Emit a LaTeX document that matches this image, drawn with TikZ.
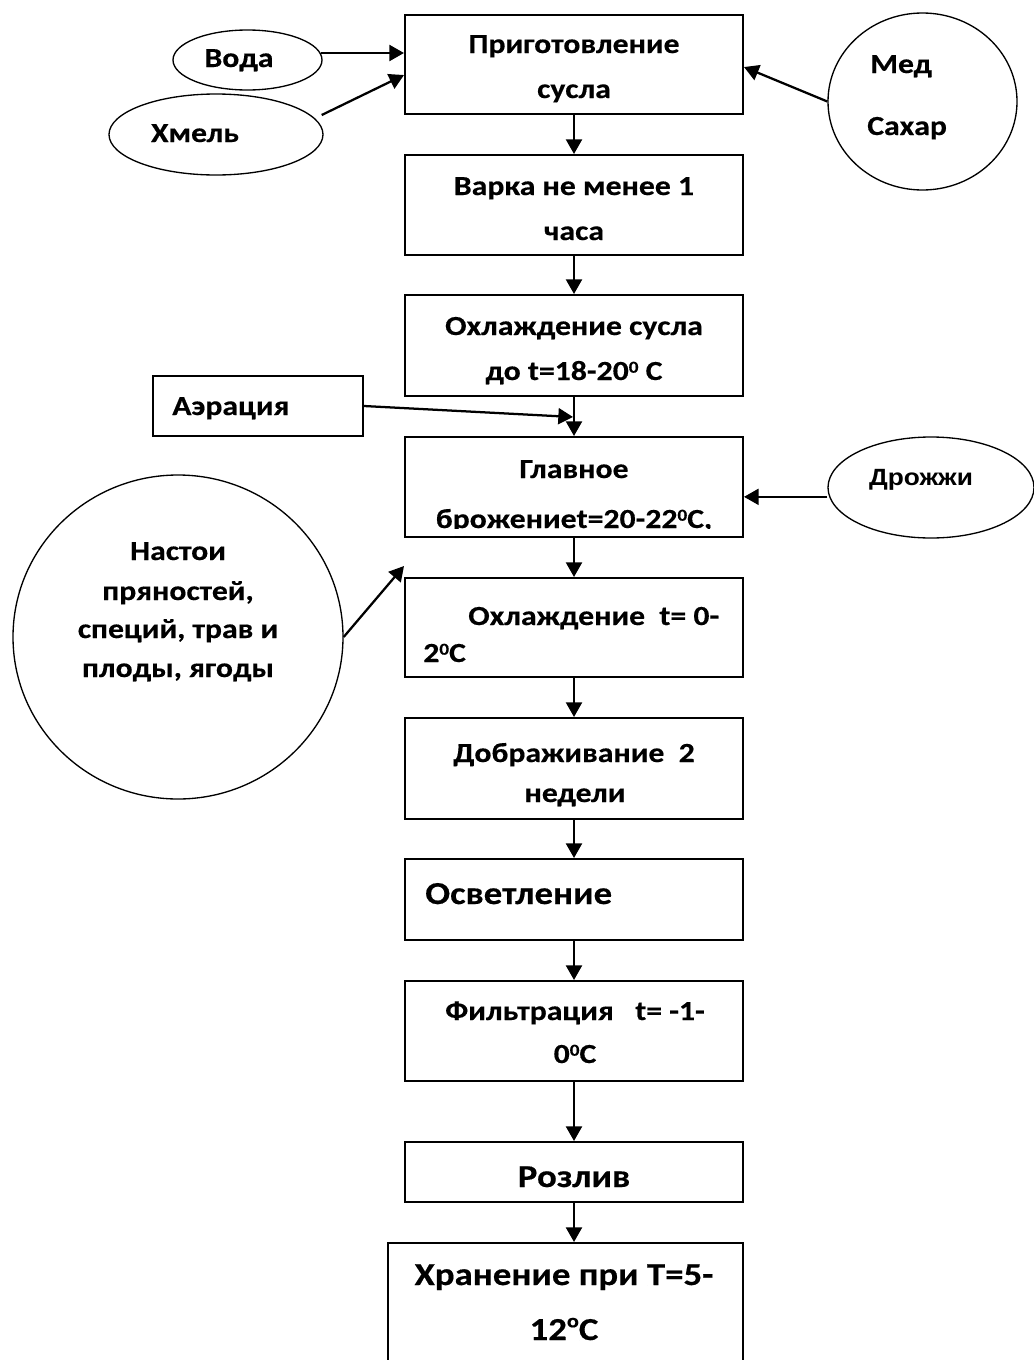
\documentclass[tikz,border=0pt]{standalone}
\usepackage{fontspec}
\setmainfont{Carlito}[FakeStretch=1.15,BoldFeatures={FakeBold=0.4}]
\newfontfamily\arialf{Liberation Sans}[FakeStretch=1.12]
\usetikzlibrary{arrows.meta,shapes.geometric}
\newcommand\degz{\raisebox{5.5pt}{\fontsize{12.5pt}{12.5pt}\selectfont 0}}
\newcommand\dego{\raisebox{9.5pt}{\fontsize{14.5pt}{14.5pt}\selectfont o}}
\begin{document}
\begin{tikzpicture}[x=0.75pt,y=-0.75pt,
  box/.style={draw,line width=1.5pt,inner sep=0pt,minimum width=253.5pt},
  oval/.style={draw,ellipse,line width=1pt,inner sep=0pt},
  txt/.style={inner sep=0pt,anchor=base,font=\bfseries\fontsize{20.7pt}{24pt}\selectfont},
  txtl/.style={txt,anchor=base west},
  big/.style={inner sep=0pt,anchor=base,font=\bfseries\fontsize{24pt}{28pt}\selectfont},
  arr/.style={line width=1.7pt,-{Triangle[width=12pt,length=11pt]}}]
\useasboundingbox (0,0) rectangle (1033,1360);
% main boxes
\node[box,minimum height=74.25pt] (b1) at (574,64.5) {};
\node[box,minimum height=75pt] (b2) at (574,205) {};
\node[box,minimum height=75.75pt] (b3) at (574,345.5) {};
\node[box,minimum height=75pt] (b4) at (574,487) {};
\node[box,minimum height=74.25pt] (b5) at (574,627.5) {};
\node[box,minimum height=75.75pt] (b6) at (574,768.5) {};
\node[box,minimum height=60.75pt] (b7) at (574,899.5) {};
\node[box,minimum height=75pt] (b8) at (574,1031) {};
\node[box,minimum height=45pt] (b9) at (574,1172) {};
\node[box,minimum width=266.25pt,minimum height=117.75pt] (b10) at (565.5,1321.5) {};
\node[box,minimum width=157.5pt,minimum height=45pt] (aer) at (258,406) {};
% ovals
\node[oval,minimum width=111.75pt,minimum height=45pt] (voda) at (247.5,60) {};
\node[oval,minimum width=160.5pt,minimum height=60.75pt] (xmel) at (216,134.5) {};
\node[oval,minimum width=141.75pt,minimum height=132.75pt] (med) at (922.5,101.5) {};
\node[oval,minimum width=154.5pt,minimum height=75.75pt] (drozh) at (931,487.5) {};
\node[oval,minimum width=247.5pt,minimum height=243pt] (nastoi) at (178,637) {};
% texts
\node[txt] (t1a) at (574,53) {Приготовление};
\node[txt] (t1b) at (574,98) {сусла};
\node[txt] (t2a) at (574,195) {Варка не менее 1};
\node[txt] (t2b) at (574,240) {часа};
\node[txt] (t3a) at (574,335) {Охлаждение сусла};
\node[txt] (t3b) at (574,380) {до t=18-20\degz{} С};
\node[txt] (t4a) at (574,478) {Главное};
\begin{scope}
\clip (405,437) rectangle (743,528.5);
\node[txt] (t4b) at (574,528) {брожениеt=20-22\degz С,};
\end{scope}
\node[txtl] (t5a) at (468,625) {Охлаждение\ \ t= 0-};
\node[txtl] (t5b) at (423,662) {2\degz С};
\node[txt] (t6a) at (574,762) {Дображивание\ \ 2};
\node[txt] (t6b) at (575,802) {недели};
\node[big,anchor=base west] (t7) at (425,904) {Осветление};
\node[txt] (t8a) at (575,1020) {Фильтрация\ \ \ t= -1-};
\node[txt] (t8b) at (575,1063) {0\degz С};
\node[big] (t9) at (574,1187) {Розлив};
\node[big] (t10a) at (564,1285) {Хранение при Т=5-};
\node[big] (t10b) at (564,1340) {12\dego С};
\node[txt] (tv) at (239,67) {Вода};
\node[txt] (tx) at (195,142) {Хмель};
\node[txtl] (tm) at (870,73) {Мед};
\node[txtl] (ts) at (867,135) {Сахар};
\node[txt,font=\arialf\bfseries\fontsize{17.6pt}{20pt}\selectfont] (td) at (921,485) {Дрожжи};
\node[txtl] (ta) at (172,415) {Аэрация};
\node[txt] (tn1) at (178,560) {Настои};
\node[txt] (tn2) at (178,600) {пряностей,};
\node[txt] (tn3) at (178,638) {специй, трав и};
\node[txt] (tn4) at (178,677) {плоды, ягоды};
% connectors
\coordinate (aerin) at (573,417);
\coordinate (nastin) at (404,566);
\coordinate (vstart) at ([yshift=5.25pt,xshift=-1.5pt]voda.east);
\coordinate (xstart) at ([yshift=14.6pt,xshift=-1.5pt]xmel.east);
\coordinate (dstart) at ([yshift=-7pt]drozh.west);
\draw[arr] (b1.south) -- (b2.north);
\draw[arr] (b2.south) -- (b3.north);
\draw[arr] (b3.south) -- (b4.north);
\draw[arr] (b4.south) -- (b5.north);
\draw[arr] (b5.south) -- (b6.north);
\draw[arr] (b6.south) -- (b7.north);
\draw[arr] (b7.south) -- (b8.north);
\draw[arr] (b8.south) -- (b9.north);
\draw[arr] (b9.south) -- (b9.south |- b10.north);
\draw[arr] (vstart) -- (b1.west |- vstart);
\draw[arr] (xstart) -- ([yshift=-7.9pt]b1.west);
\draw[arr] (med.west) -- ([yshift=-1.9pt]b1.east);
\draw[arr] (dstart) -- (b4.east |- dstart);
\draw[arr] (aer.east) -- (aerin);
\draw[arr] (nastoi.east) -- (nastin);
\end{tikzpicture}
\end{document}
